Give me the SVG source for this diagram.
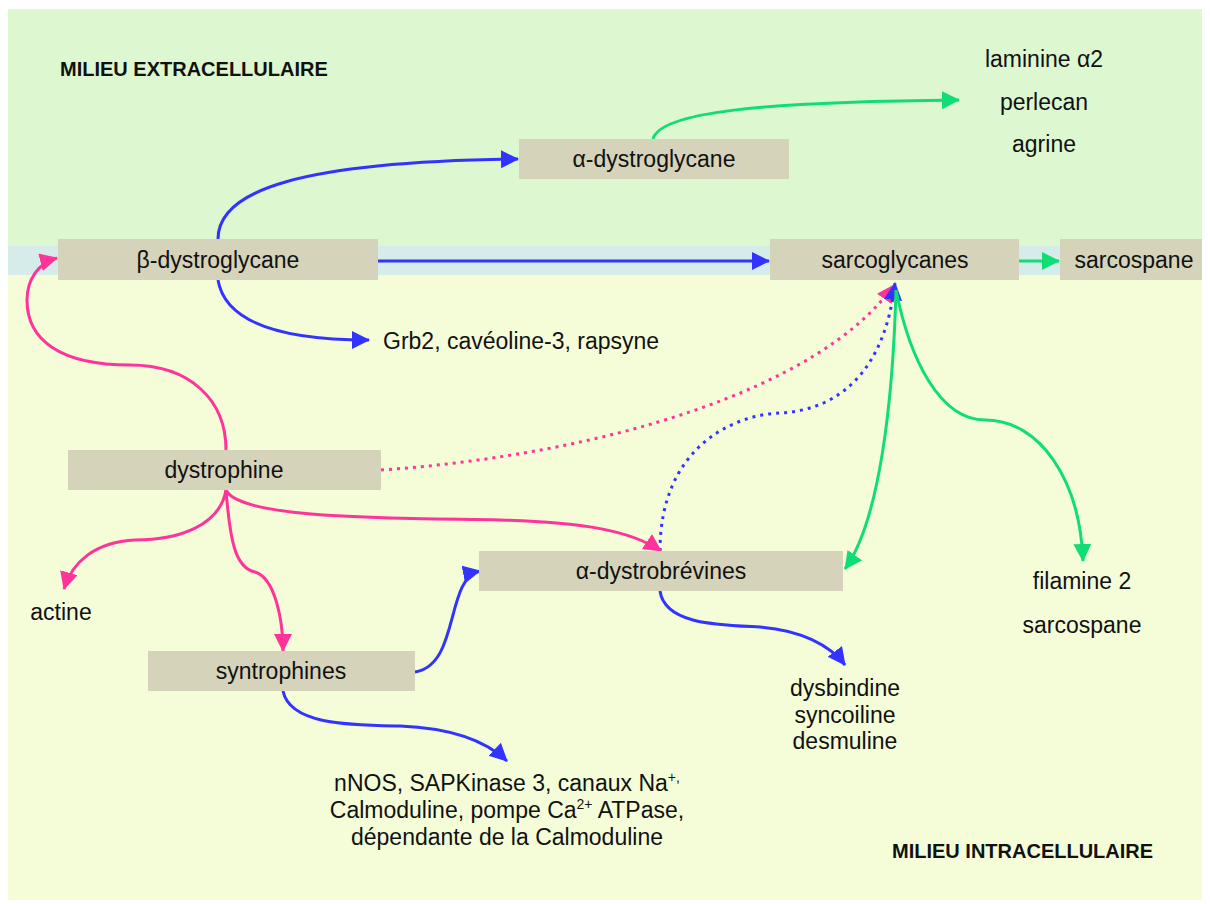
<svg xmlns="http://www.w3.org/2000/svg" width="1210" height="904" viewBox="0 0 1210 904">
<defs>
<style>
text{font-family:"Liberation Sans",Arial,sans-serif;fill:#111;}
.n{font-size:23px;text-anchor:middle;}
.t{font-size:23px;text-anchor:middle;}
.h{font-size:20px;font-weight:bold;}
.box{fill:#d5d3b9;}
.b{stroke:#3333ff;}
.p{stroke:#ff3399;}
.g{stroke:#11dd77;}
.c{fill:none;stroke-width:3;}
.d{stroke-dasharray:3 5;}
</style>
<marker id="ab" markerUnits="userSpaceOnUse" markerWidth="20" markerHeight="20" refX="17" refY="9" orient="auto"><path d="M0,0 L18,9 L0,18 z" fill="#3333ff"/></marker>
<marker id="ap" markerUnits="userSpaceOnUse" markerWidth="20" markerHeight="20" refX="17" refY="9" orient="auto"><path d="M0,0 L18,9 L0,18 z" fill="#ff3399"/></marker>
<marker id="ag" markerUnits="userSpaceOnUse" markerWidth="20" markerHeight="20" refX="17" refY="9" orient="auto"><path d="M0,0 L18,9 L0,18 z" fill="#11dd77"/></marker>
</defs>
<rect width="1210" height="904" fill="#ffffff"/>
<g id="background">
<rect x="8" y="9" width="1194" height="238" fill="#ddf7d0"/>
<rect x="8" y="246" width="1194" height="29" fill="#d5ecea"/>
<rect x="8" y="275" width="1194" height="625" fill="#f4fdd8"/>
</g>
<g id="labels">
<text class="h" x="60" y="76">MILIEU EXTRACELLULAIRE</text>
<text class="h" x="892" y="858">MILIEU INTRACELLULAIRE</text>
<text class="t" x="1044" y="67">laminine α2</text>
<text class="t" x="1044" y="110">perlecan</text>
<text class="t" x="1044" y="152">agrine</text>
<text class="t" x="383" y="349" style="text-anchor:start">Grb2, cavéoline-3, rapsyne</text>
<text class="t" x="61" y="620">actine</text>
<text class="t" x="1082" y="589">filamine 2</text>
<text class="t" x="1082" y="633">sarcospane</text>
<text class="t" x="845" y="696">dysbindine</text>
<text class="t" x="845" y="723">syncoiline</text>
<text class="t" x="845" y="749">desmuline</text>
<text class="t" x="507" y="791">nNOS, SAPKinase 3, canaux Na<tspan font-size="14" dy="-9">+,</tspan></text>
<text class="t" x="507" y="818">Calmoduline, pompe Ca<tspan font-size="14" dy="-9">2+</tspan><tspan dy="9"> ATPase,</tspan></text>
<text class="t" x="507" y="845">dépendante de la Calmoduline</text>
</g>
<g id="connectors">
<path class="c b" marker-end="url(#ab)" d="M218,239 C218,190 300,162 518,159"/>
<path class="c b" marker-end="url(#ab)" d="M378,261 L769,261"/>
<path class="c b" marker-end="url(#ab)" d="M218,280 C225,322 280,340 369,340"/>
<path class="c g" marker-end="url(#ag)" d="M653,139 C660,112 760,102 959,100"/>
<path class="c g" marker-end="url(#ag)" d="M1019,261 L1059,261"/>
<path class="c p" marker-end="url(#ap)" d="M226,450 C226,400 190,365 130,365 C60,365 27,340 27,300 C27,280 38,263 57,258"/>
<path class="c p d" marker-end="url(#ap)" d="M381,470 C600,455 820,390 894,285"/>
<path class="c b d" marker-end="url(#ab)" d="M660,551 C660,450 730,415 780,413 C840,410 885,370 895,283"/>
<path class="c g" marker-end="url(#ag)" d="M896,290 C893,400 880,520 845,569"/>
<path class="c g" marker-end="url(#ag)" d="M896,290 C910,360 940,420 985,420 C1040,420 1080,480 1083,561"/>
<path class="c p" marker-end="url(#ap)" d="M226,490 C220,525 180,540 135,540 C95,542 72,562 64,589"/>
<path class="c p" marker-end="url(#ap)" d="M226,490 C230,540 235,568 255,572 C275,578 283,620 283,651"/>
<path class="c p" marker-end="url(#ap)" d="M226,490 C240,520 400,518 500,520 C580,522 630,530 661,551"/>
<path class="c b" marker-end="url(#ab)" d="M415,672 C460,665 445,578 480,571"/>
<path class="c b" marker-end="url(#ab)" d="M283,691 C290,725 350,725 400,726 C450,728 485,740 507,761"/>
<path class="c b" marker-end="url(#ab)" d="M660,591 C665,625 720,625 760,627 C800,630 830,645 845,665"/>
</g>
<g id="beta-dystroglycane"><rect class="box" x="58" y="239" width="320" height="41"/><text class="n" x="218" y="268">β-dystroglycane</text></g>
<g id="alpha-dystroglycane"><rect class="box" x="519" y="139" width="270" height="40"/><text class="n" x="654" y="167">α-dystroglycane</text></g>
<g id="sarcoglycanes"><rect class="box" x="770" y="239" width="249" height="41"/><text class="n" x="895" y="268">sarcoglycanes</text></g>
<g id="sarcospane"><rect class="box" x="1060" y="239" width="142" height="41"/><text class="n" x="1134" y="268">sarcospane</text></g>
<g id="dystrophine"><rect class="box" x="68" y="450" width="313" height="40"/><text class="n" x="224" y="478">dystrophine</text></g>
<g id="alpha-dystrobrevines"><rect class="box" x="479" y="551" width="364" height="40"/><text class="n" x="661" y="579">α-dystrobrévines</text></g>
<g id="syntrophines"><rect class="box" x="148" y="651" width="267" height="40"/><text class="n" x="281" y="679">syntrophines</text></g>
</svg>
